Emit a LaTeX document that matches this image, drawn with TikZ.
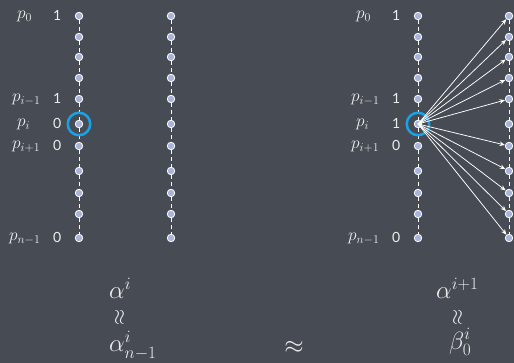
\documentclass[tikz,border=0pt]{standalone}
\usepackage{fontspec}
\setsansfont{Lato}
\usetikzlibrary{arrows.meta}
\definecolor{board}{HTML}{474B53}
\definecolor{chalk}{HTML}{EDEDED}
\definecolor{dotfill}{HTML}{A9B4DB}
\definecolor{ringblue}{HTML}{1BA1E6}
\begin{document}
\begin{tikzpicture}[x=1pt,y=-1pt,
  dot/.style={circle,fill=dotfill,draw=white,line width=0.8pt,inner sep=0pt,minimum size=7.5pt},
  link/.style={draw=white,dash pattern=on 4pt off 3pt,line width=1pt},
  ring/.style={circle,draw=ringblue,line width=2.5pt,minimum size=22.5pt,inner sep=0pt},
  lab/.style={text=chalk,font=\fontsize{17}{20}\selectfont,anchor=base west,inner sep=0pt},
  bit/.style={text=chalk,font=\sffamily\fontsize{14}{16}\selectfont,anchor=base west,inner sep=0pt},
  big/.style={text=chalk,font=\fontsize{27}{31}\selectfont,inner sep=0pt},
  wavy/.style={text=chalk,font=\fontsize{20}{24}\selectfont,inner sep=0pt},
  fan/.style={draw=white,line width=0.75pt,-{Stealth[length=5.5pt,width=4.5pt]}}]
\fill[board] (0,0) rectangle (514,363);
\useasboundingbox (0,0) rectangle (514,363);
% columns of dots
\foreach \c/\x in {a/79,b/171,c/418,d/509}{
  \foreach \y [count=\k] in {16,37,57,78,99,124,146,171,193,214,238}{
    \node[dot] (\c\k) at (\x,\y) {};
  }
  \foreach \k in {1,...,10}{
    \pgfmathtruncatemacro\n{\k+1}
    \draw[link] (\c\k) -- (\c\n);
  }
}
% rings
\node[ring] (ra) at (a6) {};
\node[ring] (rc) at (c6) {};
% fan of arrows
\foreach \k in {1,2,3,4,5,7,8,9,10,11}{
  \draw[fan] (c6.center) -- (d\k);
}
% row labels, left and right
\foreach \s/\dx in {L/0,R/339}{
  \node[lab] (\s p0) at (17+\dx,19) {$p_0$};
  \node[lab] (\s pim) at (12+\dx,102) {$p_{i-1}$};
  \node[lab] (\s pi) at (17+\dx,127) {$p_i$};
  \node[lab] (\s pip) at (12+\dx,149) {$p_{i+1}$};
  \node[lab] (\s pn) at (9+\dx,241) {$p_{n-1}$};
}
\node[bit] (Lb1) at (53,21) {1};
\node[bit] (Lb2) at (53,104) {1};
\node[bit] (Lb3) at (53,129) {0};
\node[bit] (Lb4) at (53,151) {0};
\node[bit] (Lb5) at (53,243) {0};
\node[bit] (Rb1) at (392,21) {1};
\node[bit] (Rb2) at (392,104) {1};
\node[bit] (Rb3) at (392,129) {1};
\node[bit] (Rb4) at (392,151) {0};
\node[bit] (Rb5) at (392,243) {0};
% bottom formulas
\node[big,anchor=base west] (al) at (109,299) {$\alpha^i$};
\node[wavy] (wl) at (120,317) {\rotatebox{90}{$\approx$}};
\node[big,anchor=base west] (aln) at (109,352) {$\alpha^i_{n-1}$};
\node[big] (ap) at (294,347) {$\approx$};
\node[big,anchor=base west] (ar) at (436,299) {$\alpha^{i+1}$};
\node[wavy] (wr) at (458,317) {\rotatebox{90}{$\approx$}};
\node[big,anchor=base west] (br) at (449,349) {$\beta^i_0$};
\end{tikzpicture}
\end{document}
